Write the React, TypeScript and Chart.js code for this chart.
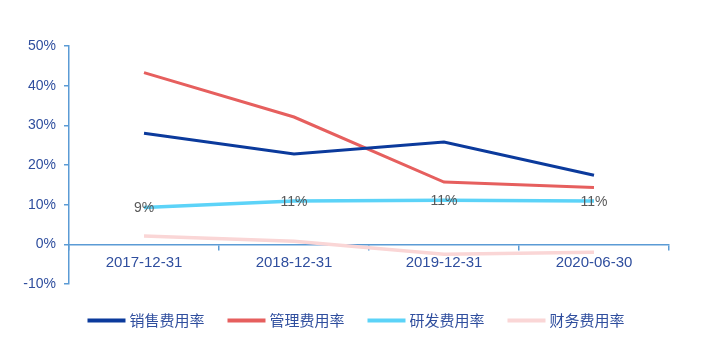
import React, { useEffect, useRef } from "react";
import { Chart, registerables } from "chart.js";

Chart.register(...registerables);

const categories = ["2017-12-31", "2018-12-31", "2019-12-31", "2020-06-30"];
const seriesNames = ["销售费用率", "管理费用率", "研发费用率", "财务费用率"];
const salesRate = [28.0, 22.8, 25.8, 17.4];
const mgmtRate = [43.3, 32.1, 15.7, 14.3];
const rdRate = [9.3, 10.9, 11.1, 10.9];
const finRate = [2.1, 0.8, -2.5, -2.0];
const seriesColors = ["#0B3A9C", "#E65F5E", "#5CD3F8", "#FAD6D6"];
const yTicks = [-10, 0, 10, 20, 30, 40, 50];

const AXIS_COLOR = "#5B9BD5";
const TEXT_COLOR = "#2F4E9E";

export default function App() {
  const ref = useRef<HTMLCanvasElement | null>(null);
  useEffect(() => {
    const canvas = ref.current;
    if (!canvas) return;

    const labelPlugin = {
      id: "rdLabels",
      afterDatasetsDraw(chart: any) {
        const ctx = chart.ctx;
        const meta = chart.getDatasetMeta(2);
        ctx.save();
        ctx.font = "14px 'Liberation Sans', Arial, sans-serif";
        ctx.fillStyle = "#595959";
        ctx.textAlign = "center";
        ctx.textBaseline = "middle";
        meta.data.forEach((pt: any, i: number) => {
          ctx.fillText(Math.round(rdRate[i]) + "%", pt.x, pt.y + 1);
        });
        ctx.restore();
      },
    };

    const legendPlugin = {
      id: "customLegend",
      afterDraw(chart: any) {
        const ctx = chart.ctx;
        ctx.save();
        ctx.font = "15px 'Noto Sans CJK SC', sans-serif";
        const lineLen = 38;
        const gap = 4;
        const spacing = 23;
        const widths = seriesNames.map((n) => ctx.measureText(n).width);
        const total =
          widths.reduce((a, b) => a + b, 0) + seriesNames.length * (lineLen + gap) + spacing * (seriesNames.length - 1);
        let x = 356 - total / 2;
        const y = 320.5;
        seriesNames.forEach((n, i) => {
          ctx.strokeStyle = seriesColors[i];
          ctx.lineWidth = 4;
          ctx.lineCap = "butt";
          ctx.beginPath();
          ctx.moveTo(x, y);
          ctx.lineTo(x + lineLen, y);
          ctx.stroke();
          ctx.fillStyle = TEXT_COLOR;
          ctx.textAlign = "left";
          ctx.textBaseline = "middle";
          ctx.fillText(n, x + lineLen + gap, y);
          x += lineLen + gap + widths[i] + spacing;
        });
        ctx.restore();
      },
    };

    const data = [salesRate, mgmtRate, rdRate, finRate];
    const widthsArr = [3, 3, 3.5, 3.5];

    const chart = new Chart(canvas, {
      type: "line",
      data: {
        labels: categories,
        datasets: seriesNames.map((name, i) => ({
          label: name,
          data: data[i],
          borderColor: seriesColors[i],
          backgroundColor: seriesColors[i],
          borderWidth: widthsArr[i],
          pointRadius: 0,
          tension: 0,
          fill: false,
        })),
      },
      options: {
        responsive: false,
        animation: false,
        layout: { padding: { left: 0, top: 46, right: 32, bottom: 72 } },
        plugins: {
          legend: { display: false },
          tooltip: { enabled: false },
        },
        scales: {
          x: {
            type: "category",
            position: { y: 0 } as any,
            offset: true,
            grid: {
              offset: true,
              drawOnChartArea: false,
              drawTicks: true,
              tickLength: 5,
              color: AXIS_COLOR,
              lineWidth: 1.5,
            },
            border: { display: true, color: AXIS_COLOR, width: 1.5 },
            ticks: {
              color: TEXT_COLOR,
              font: { family: "'Liberation Sans', Arial, sans-serif", size: 15 },
              padding: 5,
              maxRotation: 0,
              autoSkip: false,
            },
          },
          y: {
            min: -10,
            max: 50,
            afterBuildTicks(scale: any) {
              scale.ticks = yTicks.map((v) => ({ value: v }));
            },
            afterFit(scale: any) {
              scale.width = 69;
            },
            grid: {
              drawOnChartArea: false,
              drawTicks: true,
              tickLength: 5,
              color: AXIS_COLOR,
              lineWidth: 1.5,
            },
            border: { display: true, color: AXIS_COLOR, width: 1.5 },
            ticks: {
              color: TEXT_COLOR,
              font: { family: "'Liberation Sans', Arial, sans-serif", size: 14 },
              padding: 8,
              callback: (v: any) => v + "%",
            },
          },
        },
      },
      plugins: [labelPlugin, legendPlugin],
    });
    return () => chart.destroy();
  }, []);

  return (
    <div style={{ position: "fixed", left: 0, top: 0, width: 701, height: 356, background: "#fff" }}>
      <canvas ref={ref} width={701} height={356} style={{ width: 701, height: 356, display: "block" }} />
    </div>
  );
}
